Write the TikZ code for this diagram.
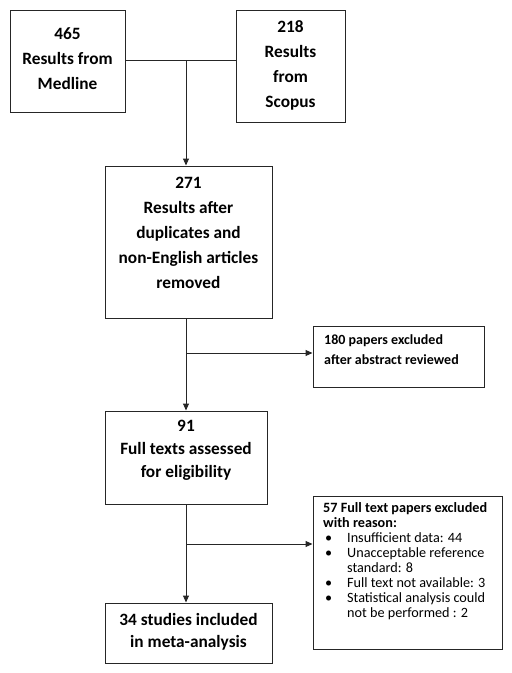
\documentclass[tikz,border=0pt]{standalone}
\usepackage{fontspec}
\setmainfont{Carlito}
\usetikzlibrary{arrows.meta}
\begin{document}
\begin{tikzpicture}[x=1pt,y=-1pt,
  box/.style={draw=black!85,line width=1pt,rectangle,inner sep=0pt},
  big/.style={font=\bfseries\fontsize{17.3}{25}\selectfont,align=center,inner sep=0pt},
  small/.style={font=\fontsize{14.2}{15}\selectfont,align=left,inner sep=0pt,anchor=north west},
  conn/.style={draw=black!85,line width=1pt},
  arr/.style={conn,-{Triangle[length=7pt,width=6pt]}}]
\useasboundingbox (0,0) rectangle (512,673);
% boxes
\node[box,minimum width=115pt,minimum height=102pt] (med) at (67.5,61) {};
\node[big] (medt) at (67.5,59) {465\\Results from\\Medline};
\node[box,minimum width=109pt,minimum height=112pt] (sco) at (290.5,66) {};
\node[big] (scot) at (290.5,65) {218\\Results\\from\\Scopus};
\node[box,minimum width=167pt,minimum height=152pt] (r271) at (188.5,242) {};
\node[big] (r271t) at (188.5,233) {271\\Results after\\duplicates and\\non-English articles\\removed};
\node[box,minimum width=171pt,minimum height=61pt] (ex180) at (398.5,356.5) {};
\node[small,font=\bfseries\fontsize{14}{20}\selectfont] (ex180t) at (324,334) {180 papers excluded\\after abstract reviewed};
\node[box,minimum width=162pt,minimum height=93pt] (f91) at (186,457.5) {};
\node[big,font=\bfseries\fontsize{17.3}{23}\selectfont] (f91t) at (186,450) {91\\Full texts assessed\\for eligibility};
\node[box,minimum width=189pt,minimum height=153pt] (ex57) at (407.5,572.5) {};
\node[small] (ex57t) at (323,502) {\textbf{57 Full text papers excluded}\\\textbf{with reason:}\\
\hspace*{2pt}\makebox[22pt][l]{•}Insufficient data: 44\\
\hspace*{2pt}\makebox[22pt][l]{•}Unacceptable reference\\
\hspace*{24pt}standard: 8\\
\hspace*{2pt}\makebox[22pt][l]{•}Full text not available: 3\\
\hspace*{2pt}\makebox[22pt][l]{•}Statistical analysis could\\
\hspace*{24pt}not be performed : 2};
\node[box,minimum width=167pt,minimum height=60pt] (s34) at (188.5,633) {};
\node[big,font=\bfseries\fontsize{17.3}{22}\selectfont] (s34t) at (188.5,632) {34 studies included\\in meta-analysis};
% connectors
\coordinate (j) at (186,60);
\coordinate (b1) at (186,353);
\coordinate (b2) at (186,544);
\draw[conn] (med.east |- j) -- (sco.west |- j);
\draw[arr] (j) -- (j |- r271.north);
\draw[arr] (r271.south -| j) -- (f91.north -| j);
\draw[arr] (b1) -- (ex180.west |- b1);
\draw[arr] (f91.south -| j) -- (s34.north -| j);
\draw[arr] (b2) -- (ex57.west |- b2);
\end{tikzpicture}
\end{document}
